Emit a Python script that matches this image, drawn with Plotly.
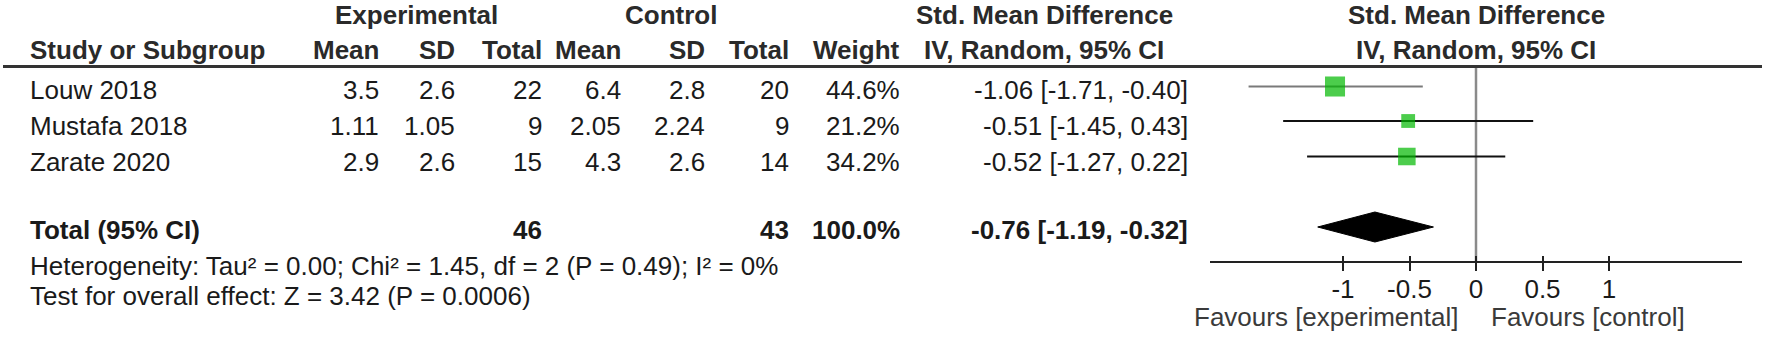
import math
import plotly.graph_objects as go

# ---------------- data ----------------
studies = ["Louw 2018", "Mustafa 2018", "Zarate 2020"]
exp_mean = [3.5, 1.11, 2.9]
exp_sd = [2.6, 1.05, 2.6]
exp_n = [22, 9, 15]
ctl_mean = [6.4, 2.05, 4.3]
ctl_sd = [2.8, 2.24, 2.6]
ctl_n = [20, 9, 14]
weights = [44.6, 21.2, 34.2]
smd = [-1.06, -0.51, -0.52]
ci_lo = [-1.71, -1.45, -1.27]
ci_hi = [-0.40, 0.43, 0.22]

total_label = "Total (95% CI)"
total_exp_n = 46
total_ctl_n = 43
total_weight = 100.0
total_smd = -0.76
total_lo = -1.19
total_hi = -0.32

heterogeneity = "Heterogeneity: Tau² = 0.00; Chi² = 1.45, df = 2 (P = 0.49); I² = 0%"
overall = "Test for overall effect: Z = 3.42 (P = 0.0006)"
tick_vals = [-1, -0.5, 0, 0.5, 1]
tick_text = ["-1", "-0.5", "0", "0.5", "1"]
favours_left = "Favours [experimental]"
favours_right = "Favours [control]"

# ---------------- layout constants (pixels) ----------------
W, H = 1765, 338
FONT = "Liberation Sans, Arial, sans-serif"
FS = 26
TXT = "#1a1a1a"
HDR = "#2a2a2a"
row_text_y = [90, 126, 162]
row_mark_y = [86.5, 121, 156.5]
total_text_y = 229.5
diamond_y = 227
diamond_half_h = 15
axis_y = 262
header_line_y = 66.5
plot_px = (1210, 1742)  # pixel span of the -2..2 forest axis

fig = go.Figure()

# CI lines
ci_colors = ["#7a7a7a", "#111111", "#111111"]
for i in range(len(studies)):
    fig.add_trace(go.Scatter(
        x=[ci_lo[i], ci_hi[i]], y=[row_mark_y[i], row_mark_y[i]],
        mode="lines", line=dict(color=ci_colors[i], width=2),
        xaxis="x2", yaxis="y", showlegend=False, hoverinfo="skip"))

# squares (size from weight)
fig.add_trace(go.Scatter(
    x=smd, y=row_mark_y, mode="markers",
    marker=dict(symbol="square", color="#00b800",
                size=[3 * math.sqrt(w) for w in weights], line=dict(width=0)),
    xaxis="x2", yaxis="y", showlegend=False, hoverinfo="skip"))

# diamond
fig.add_trace(go.Scatter(
    x=[total_lo, total_smd, total_hi, total_smd, total_lo],
    y=[diamond_y, diamond_y - diamond_half_h, diamond_y, diamond_y + diamond_half_h, diamond_y],
    mode="lines", fill="toself", fillcolor="#000000", line=dict(color="#000000", width=1),
    xaxis="x2", yaxis="y", showlegend=False, hoverinfo="skip"))

# invisible trace to enable overlay tick axis
fig.add_trace(go.Scatter(x=[0], y=[axis_y], mode="markers", marker=dict(opacity=0),
                         xaxis="x3", yaxis="y", showlegend=False, hoverinfo="skip"))

ann = []


def t(x, y, s, anchor="right", bold=False, xref="x", color=None, size=FS):
    ann.append(dict(x=x, y=y, xref=xref, yref="y", text=(f"<b>{s}</b>" if bold else s),
                    showarrow=False, xanchor=anchor, yanchor="middle",
                    font=dict(family=FONT, size=size, color=color or (HDR if bold else TXT))))


# headers
t(416, 14.5, "Experimental", "center", True)
t(671, 14.5, "Control", "center", True)
t(1044, 14.5, "Std. Mean Difference", "center", True)
t(0, 14.5, "Std. Mean Difference", "center", True, xref="x2")
t(28, 50, "Study or Subgroup", "left", True)
col_x = [381, 457, 544, 623, 707, 791, 902]
for x, s in zip(col_x, ["Mean", "SD", "Total", "Mean", "SD", "Total", "Weight"]):
    t(x, 50, s, "right", True)
t(1044, 50, "IV, Random, 95% CI", "center", True)
t(0, 50, "IV, Random, 95% CI", "center", True, xref="x2")

# study rows
for i, name in enumerate(studies):
    y = row_text_y[i]
    t(28, y, name, "left")
    vals = [f"{exp_mean[i]:g}", f"{exp_sd[i]:g}", f"{exp_n[i]}",
            f"{ctl_mean[i]:g}", f"{ctl_sd[i]:g}", f"{ctl_n[i]}", f"{weights[i]:.1f}%"]
    for x, s in zip(col_x, vals):
        t(x, y, s, "right")
    t(1190, y, f"{smd[i]:.2f} [{ci_lo[i]:.2f}, {ci_hi[i]:.2f}]", "right")

# total row
t(28, total_text_y, total_label, "left", True, color=TXT)
t(col_x[2], total_text_y, f"{total_exp_n}", "right", True, color=TXT)
t(col_x[5], total_text_y, f"{total_ctl_n}", "right", True, color=TXT)
t(col_x[6], total_text_y, f"{total_weight:.1f}%", "right", True, color=TXT)
t(1190, total_text_y, f"{total_smd:.2f} [{total_lo:.2f}, {total_hi:.2f}]", "right", True, color=TXT)

t(28, 266, heterogeneity, "left")
t(28, 296, overall, "left")

# favours labels
t(-0.12, 317, favours_left, "right", xref="x2", color="#3a3a3a")
t(0.10, 317, favours_right, "left", xref="x2", color="#3a3a3a")

shapes = [
    dict(type="line", xref="x", yref="y", x0=3, x1=1762, y0=header_line_y, y1=header_line_y,
         line=dict(color="#333333", width=3)),
    dict(type="line", xref="x2", yref="y", x0=0, x1=0, y0=header_line_y, y1=axis_y,
         line=dict(color="#8a8a8a", width=2.5), layer="below"),
]

dom = [plot_px[0] / W, plot_px[1] / W]
pos = (H - axis_y) / H

fig.update_layout(
    width=W, height=H, autosize=False,
    margin=dict(l=0, r=0, t=0, b=0),
    paper_bgcolor="white", plot_bgcolor="rgba(0,0,0,0)",
    annotations=ann, shapes=shapes,
    xaxis=dict(range=[0, W], domain=[0, 1], visible=False, fixedrange=True),
    yaxis=dict(range=[H, 0], domain=[0, 1], visible=False, fixedrange=True),
    xaxis2=dict(range=[-2, 2], domain=dom, anchor="free", position=pos, side="bottom",
                showline=True, linecolor="#222222", linewidth=2,
                ticks="outside", ticklen=8, tickwidth=2, tickcolor="#222222",
                tickvals=tick_vals, ticktext=tick_text, showgrid=False, zeroline=False,
                ticklabelstandoff=-4,
                tickfont=dict(family=FONT, size=FS, color=TXT), fixedrange=True),
    xaxis3=dict(range=[-2, 2], domain=dom, anchor="free", position=pos, overlaying="x2",
                side="bottom", showline=False, ticks="inside", ticklen=6, tickwidth=2,
                tickcolor="#222222", tickvals=tick_vals, showticklabels=False,
                showgrid=False, zeroline=False, fixedrange=True),
)

fig.write_html("out.html", config={"displayModeBar": False},
               post_script="document.body.style.margin='0';")
